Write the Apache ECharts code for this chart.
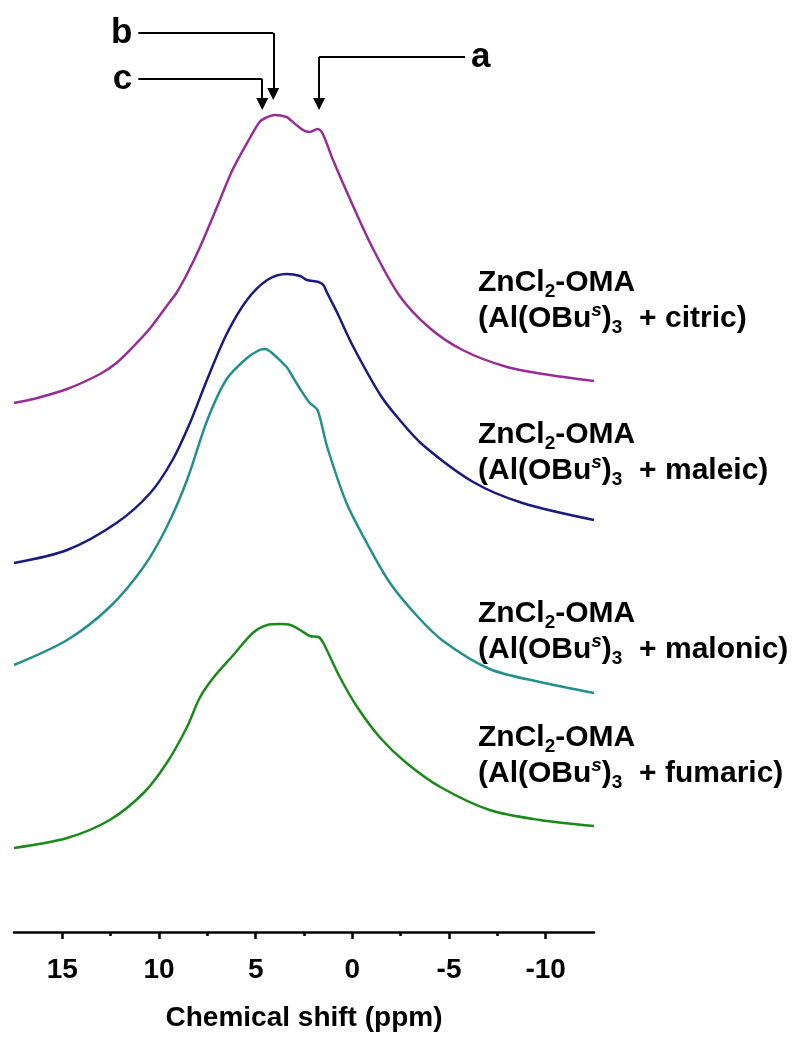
<!DOCTYPE html>
<html>
<head>
<meta charset="utf-8">
<script src="https://cdn.jsdelivr.net/npm/echarts@6/dist/echarts.min.js"></script>
<style>
  html, body { margin: 0; padding: 0; background: #fff; }
  #chart { width: 792px; height: 1039px; }
</style>
</head>
<body>
<div id="chart"></div>
<script>
  // chemical shift (ppm) and trace height for each spectrum
  var citricX = [17.5, 16.5, 14.75, 13.05, 12.2, 11.35, 10.45, 9.6, 9.1, 8.55, 7.9, 7.0, 6.2, 5.3, 4.8, 4.5, 4.0, 3.4, 3.2, 2.55, 2.2, 1.8, 1.55, 1.0, 0.1, -1.05, -2.45, -4.0, -5.7, -8.0, -10.2, -12.5];
  var citricY = [529, 533, 543, 558, 569, 585, 604, 626, 639, 658, 684, 725, 762, 794, 810, 814, 817, 815, 812, 802, 800, 803, 799, 772, 732, 684, 636, 604, 582, 565, 557, 551];

  var maleicX = [17.5, 14.75, 12.2, 10.45, 9.3, 8.4, 7.5, 6.5, 5.45, 4.4, 3.4, 2.7, 2.35, 1.75, 1.5, 1.3, 0.8, 0.0, -1.45, -2.45, -3.65, -6.25, -8.8, -12.5];
  var maleicY = [369, 382, 409, 439, 472, 509, 553, 598, 632, 652, 658, 656, 652, 650, 647, 639, 620, 587, 537, 512, 487, 450, 429, 412];

  var malonicX = [17.5, 14.75, 12.55, 10.8, 9.6, 8.55, 7.5, 6.5, 5.45, 4.8, 4.5, 4.1, 3.4, 3.2, 2.7, 2.2, 1.8, 1.3, 0.3, -0.75, -1.95, -3.35, -4.7, -7.1, -9.7, -12.5];
  var malonicY = [267, 292, 325, 365, 405, 452, 512, 553, 574, 582, 583, 578, 565, 559, 543, 529, 522, 485, 429, 389, 349, 316, 291, 263, 250, 239];

  var fumaricX = [17.5, 14.75, 12.55, 10.8, 9.6, 8.55, 7.9, 7.2, 6.2, 5.15, 4.4, 3.75, 3.2, 2.7, 2.2, 1.75, 1.5, 0.65, -0.25, -1.45, -2.8, -4.55, -7.1, -9.7, -12.5];
  var fumaricY = [84, 94, 112, 139, 169, 205, 234, 254, 276, 299, 307, 308, 307, 302, 296, 295, 289, 255, 225, 194, 169, 145, 122, 112, 106];

  var majorTicks = [15, 10, 5, 0, -5, -10];
  var minorTicks = [12.5, 7.5, 2.5, -2.5, -7.5];

  // peak markers a, b, c (ppm)
  var peakA = 1.72, peakB = 4.09, peakC = 4.66;

  var acids = ['citric', 'maleic', 'malonic', 'fumaric'];
  var colors = ['#982d98', '#1a1a80', '#23908e', '#1a8a1a'];
  var labelTops = [268, 420, 599, 723];

  function pairs(xs, ys) {
    return xs.map(function (x, i) { return [x, ys[i]]; });
  }

  var font = 'Liberation Sans, Arial, sans-serif';
  var chart = echarts.init(document.getElementById('chart'));

  var seriesData = [pairs(citricX, citricY), pairs(maleicX, maleicY), pairs(malonicX, malonicY), pairs(fumaricX, fumaricY)];

  var arrowLines = [
    // a
    [{ coord: [peakA, 875], symbol: 'none', label: { show: true, position: 'end', formatter: 'a', distance: 6 } }, { coord: [-5.83, 875], symbol: 'none' }],
    [{ coord: [peakA, 875], symbol: 'none' }, { coord: [peakA, 828], symbol: 'triangle' }],
    // b
    [{ coord: [peakB, 899], symbol: 'none', label: { show: true, position: 'end', formatter: 'b', distance: 6 } }, { coord: [11.07, 899], symbol: 'none' }],
    [{ coord: [peakB, 899], symbol: 'none' }, { coord: [peakB, 838], symbol: 'triangle' }],
    // c
    [{ coord: [peakC, 853], symbol: 'none', label: { show: true, position: 'end', formatter: 'c', distance: 6 } }, { coord: [11.07, 853], symbol: 'none' }],
    [{ coord: [peakC, 853], symbol: 'none' }, { coord: [peakC, 828], symbol: 'triangle' }]
  ];

  var series = seriesData.map(function (d, i) {
    var s = {
      type: 'line',
      data: d,
      showSymbol: false,
      smooth: 0.3,
      lineStyle: { color: colors[i], width: 2.5 },
      itemStyle: { color: colors[i] },
      silent: true
    };
    if (i === 0) {
      s.markLine = {
        silent: true,
        symbolSize: [12, 12],
        lineStyle: { color: '#000', width: 2, type: 'solid' },
        itemStyle: { color: '#000' },
        label: { show: false, color: '#000', fontFamily: font, fontWeight: 'bold', fontSize: 35 },
        emphasis: { disabled: true },
        data: arrowLines
      };
    }
    return s;
  });

  var rich = {
    n: { fontFamily: font, fontWeight: 'bold', fontSize: 30, lineHeight: 36, color: '#000' },
    sub: { fontFamily: font, fontWeight: 'bold', fontSize: 19, lineHeight: 19, verticalAlign: 'bottom', color: '#000' },
    sup: { fontFamily: font, fontWeight: 'bold', fontStyle: 'italic', fontSize: 19, lineHeight: 19, verticalAlign: 'top', color: '#000' }
  };

  var graphics = acids.map(function (a, i) {
    return {
      type: 'text',
      left: 478,
      top: labelTops[i],
      style: {
        text: '{n|ZnCl}{sub|2}{n|-OMA}\n{n|(Al(OBu}{sup|s}{n|)}{sub|3}{n|  + ' + a + ')}',
        rich: rich
      }
    };
  });

  chart.setOption({
    animation: false,
    backgroundColor: '#fff',
    grid: { left: 14, right: 198, top: 0, bottom: 107 },
    xAxis: [{
      type: 'value',
      min: -12.5,
      max: 17.5,
      inverse: true,
      name: 'Chemical shift (ppm)',
      nameLocation: 'middle',
      nameGap: 72,
      nameTextStyle: { fontFamily: font, fontWeight: 'bold', fontSize: 28, color: '#000' },
      axisLine: { show: true, lineStyle: { color: '#000', width: 2.5 } },
      axisTick: { show: true, customValues: majorTicks, length: 7, lineStyle: { color: '#000', width: 2.5 } },
      axisLabel: { customValues: majorTicks, margin: 24, fontFamily: font, fontWeight: 'bold', fontSize: 28, color: '#000' },
      splitLine: { show: false }
    }, {
      type: 'value',
      min: -12.5,
      max: 17.5,
      inverse: true,
      position: 'bottom',
      axisLine: { show: false },
      axisTick: { show: true, customValues: minorTicks, length: 4, lineStyle: { color: '#000', width: 2.5 } },
      axisLabel: { show: false },
      splitLine: { show: false }
    }],
    yAxis: { type: 'value', min: 0, max: 932, show: false },
    graphic: graphics,
    series: series
  });
</script>
</body>
</html>
